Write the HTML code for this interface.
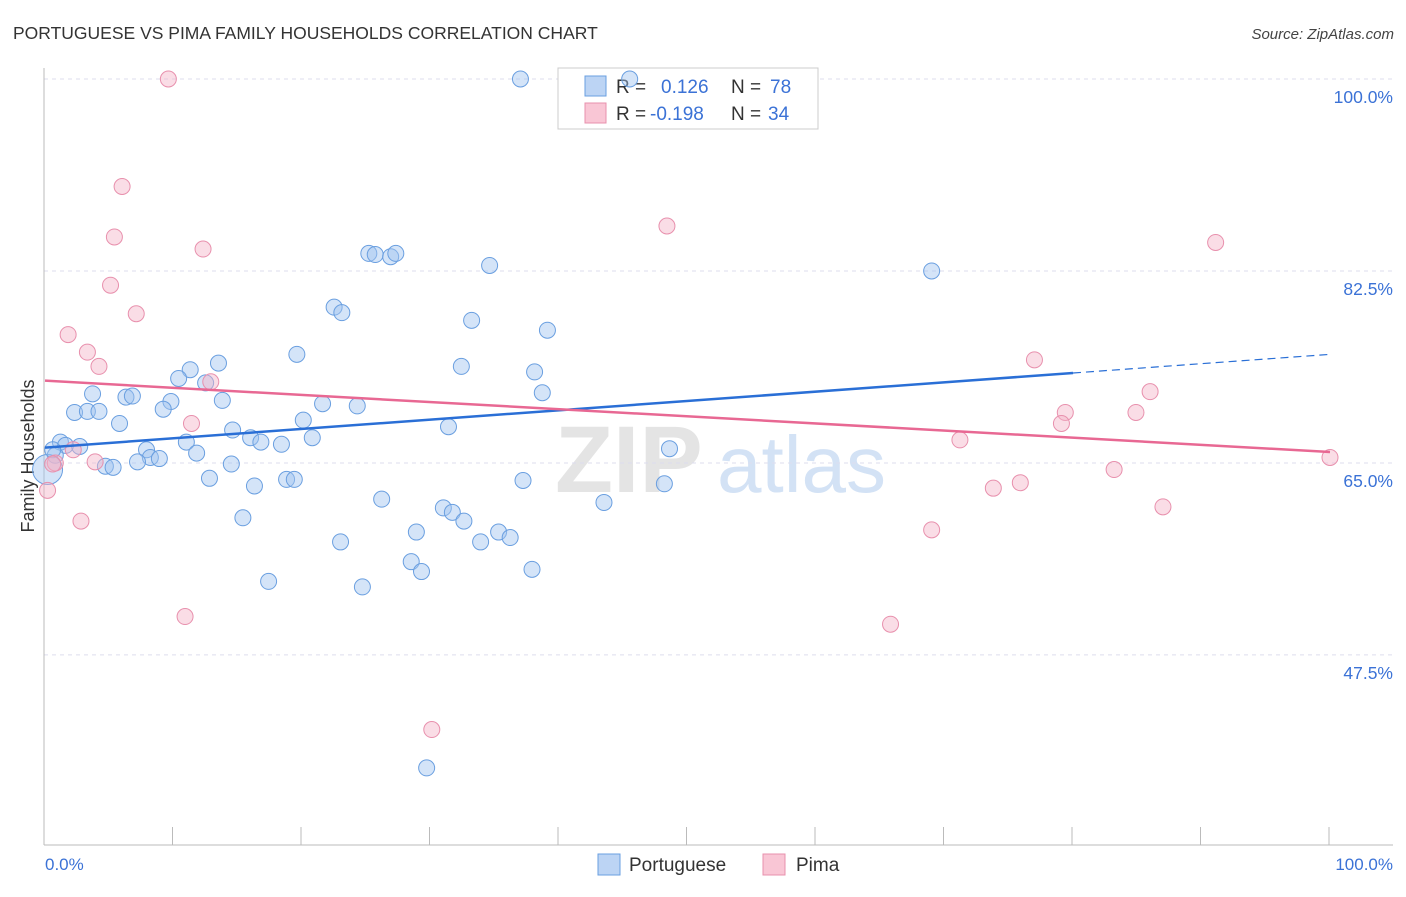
<!DOCTYPE html>
<html><head><meta charset="utf-8"><style>
body{margin:0;background:#fff;font-family:"Liberation Sans",sans-serif;}
svg text{font-family:"Liberation Sans",sans-serif;}
</style></head><body>
<svg id="chart" width="1406" height="892" viewBox="0 0 1406 892" xmlns="http://www.w3.org/2000/svg">
<text x="13" y="39" font-size="17.5" fill="#333">PORTUGUESE VS PIMA FAMILY HOUSEHOLDS CORRELATION CHART</text>
<text x="1394" y="39" font-size="15" fill="#444" font-style="italic" text-anchor="end">Source: ZipAtlas.com</text>
<g>
<text x="555" y="492" font-size="95" font-family="Liberation Serif" font-weight="bold" fill="#e4e4e4">ZIP</text>
<text x="717" y="492" font-size="80" fill="#d3e2f5">atlas</text>
</g>
<g id="grid"></g>
<line x1="44" y1="68" x2="44" y2="845" stroke="#bbb" stroke-width="1"/>
<line x1="44" y1="845" x2="1393" y2="845" stroke="#bbb" stroke-width="1"/>
<g id="ticks"></g>
<text transform="translate(34,456) rotate(-90)" font-size="18" fill="#333" text-anchor="middle">Family Households</text>
<text x="45" y="870" font-size="17" fill="#3b72d6">0.0%</text>
<text x="1393" y="870" font-size="17" fill="#3b72d6" text-anchor="end">100.0%</text>
<g>
<rect x="558" y="68" width="260" height="61" fill="#fff" stroke="#ccc"/>
<rect x="585" y="76" width="21" height="20" fill="#bcd4f4" stroke="#6a9fe0"/>
<rect x="585" y="103" width="21" height="20" fill="#f9c6d5" stroke="#e890ad"/>
<text x="616" y="93" font-size="19" fill="#333">R =</text>
<text x="661" y="93" font-size="19" fill="#3b72d6">0.126</text>
<text x="731" y="93" font-size="19" fill="#333">N =</text>
<text x="770" y="93" font-size="19" fill="#3b72d6">78</text>
<text x="616" y="120" font-size="19" fill="#333">R =</text>
<text x="650" y="120" font-size="19" fill="#3b72d6">-0.198</text>
<text x="731" y="120" font-size="19" fill="#333">N =</text>
<text x="768" y="120" font-size="19" fill="#3b72d6">34</text>
</g>
<g id="points"></g>
<g id="trends"></g>
<g>
<rect x="598" y="854" width="22" height="21" fill="#bcd4f4" stroke="#6a9fe0"/>
<text x="629" y="871" font-size="19" fill="#333">Portuguese</text>
<rect x="763" y="854" width="22" height="21" fill="#f9c6d5" stroke="#e890ad"/>
<text x="796" y="871" font-size="19" fill="#333">Pima</text>
</g>
</svg>
<script>
const yTicks=[100,82.5,65,47.5];
const yTickLabels=["100.0%","82.5%","65.0%","47.5%"];
const xTicks=[0,10,20,30,40,50,60,70,80,90,100];
const portX=[37.0,45.5,69.0,34.6,25.2,25.7,26.9,27.3,22.5,23.1,33.2,39.1,19.6,32.4,38.1,13.5,11.3,10.4,12.5,3.7,6.3,6.8,38.7,9.8,13.8,2.3,3.3,4.2,9.2,21.6,24.3,20.1,5.8,14.6,31.4,20.8,16.0,16.8,18.4,11.0,1.2,1.6,2.7,7.9,11.8,48.6,0.8,8.2,8.9,7.2,4.7,5.3,14.5,12.8,18.8,19.4,16.3,37.2,48.2,26.2,43.5,31.0,31.7,32.6,15.4,28.9,35.3,36.2,33.9,23.0,28.5,29.3,37.9,17.4,24.7,29.7,0.2,0.6];
const portY=[100,100,82.5,83.0,84.1,84.0,83.8,84.1,79.2,78.7,78.0,77.1,74.9,73.8,73.3,74.1,73.5,72.7,72.3,71.3,71.0,71.1,71.4,70.6,70.7,69.6,69.7,69.7,69.9,70.4,70.2,68.9,68.6,68.0,68.3,67.3,67.3,66.9,66.7,66.9,66.9,66.6,66.5,66.2,65.9,66.3,65.7,65.5,65.4,65.1,64.7,64.6,64.9,63.6,63.5,63.5,62.9,63.4,63.1,61.7,61.4,60.9,60.5,59.7,60.0,58.7,58.7,58.2,57.8,57.8,56.0,55.1,55.3,54.2,53.7,37.2,64.4,66.2];
const portSize=portX.map((_,i)=>i===76?2:1);
const pimaX=[9.6,6.0,5.4,12.3,48.4,91.1,5.1,7.1,1.8,3.3,4.2,77.0,12.9,86.0,11.4,79.4,79.1,84.9,71.2,2.2,3.9,0.8,83.2,100,73.8,75.9,0.2,2.8,87.0,69.0,10.9,65.8,30.1,0.6];
const pimaY=[100,90.2,85.6,84.5,86.6,85.1,81.2,78.6,76.7,75.1,73.8,74.4,72.4,71.5,68.6,69.6,68.6,69.6,67.1,66.2,65.1,65.0,64.4,65.5,62.7,63.2,62.5,59.7,61.0,58.9,51.0,50.3,40.7,64.9];
const portTrend=[66.4,73.2,74.9]; // at x=0, 80, 100
const pimaTrend=[72.5,66.0];       // at x=0, 100
const NS="http://www.w3.org/2000/svg";
const xs=v=>45+v*12.85;
const ys=v=>79+(100-v)*10.97;
function mk(tag,attrs,parent){const e=document.createElementNS(NS,tag);for(const k in attrs)e.setAttribute(k,attrs[k]);parent.appendChild(e);return e;}
const grid=document.getElementById('grid');
yTicks.forEach((t,i)=>{
 const l=mk('line',{x1:44,x2:1393,y1:ys(t),y2:ys(t),stroke:'#dde',"stroke-dasharray":'4,4'},grid);
 
 
 const tx=mk('text',{x:1393,y:ys(t)+24,"font-size":17.5,fill:'#3b72d6',"text-anchor":'end'},grid);
 tx.textContent=yTickLabels[i];
 
 
});
const ticks=document.getElementById('ticks');
xTicks.forEach(t=>{
 const l=mk('line',{x1:xs(t)-1,x2:xs(t)-1,y1:827,y2:845,stroke:'#bbb'},ticks);
 
 
});
const pts=document.getElementById('points');
portX.forEach((x,i)=>{
 const c=mk('circle',{cx:xs(x),cy:ys(portY[i]),r:portSize[i]>1?15:8,fill:'rgba(160,195,240,0.45)',stroke:'#6a9fe0',"stroke-width":1},pts);
 
 
});
pimaX.forEach((x,i)=>{
 const c=mk('circle',{cx:xs(x),cy:ys(pimaY[i]),r:8,fill:'rgba(245,180,200,0.45)',stroke:'#e890ad',"stroke-width":1},pts);
 
 
});
const tr=document.getElementById('trends');
let a=mk('line',{x1:xs(0),y1:ys(portTrend[0]),x2:xs(80),y2:ys(portTrend[1]),stroke:'#2a6fd6',"stroke-width":2.5},tr);


let b=mk('line',{x1:xs(80),y1:ys(portTrend[1]),x2:xs(100),y2:ys(portTrend[2]),stroke:'#2a6fd6',"stroke-width":1.2,"stroke-dasharray":'8,5'},tr);


let p=mk('line',{x1:xs(0),y1:ys(pimaTrend[0]),x2:xs(100),y2:ys(pimaTrend[1]),stroke:'#e86893',"stroke-width":2.5},tr);


</script>
</body></html>
